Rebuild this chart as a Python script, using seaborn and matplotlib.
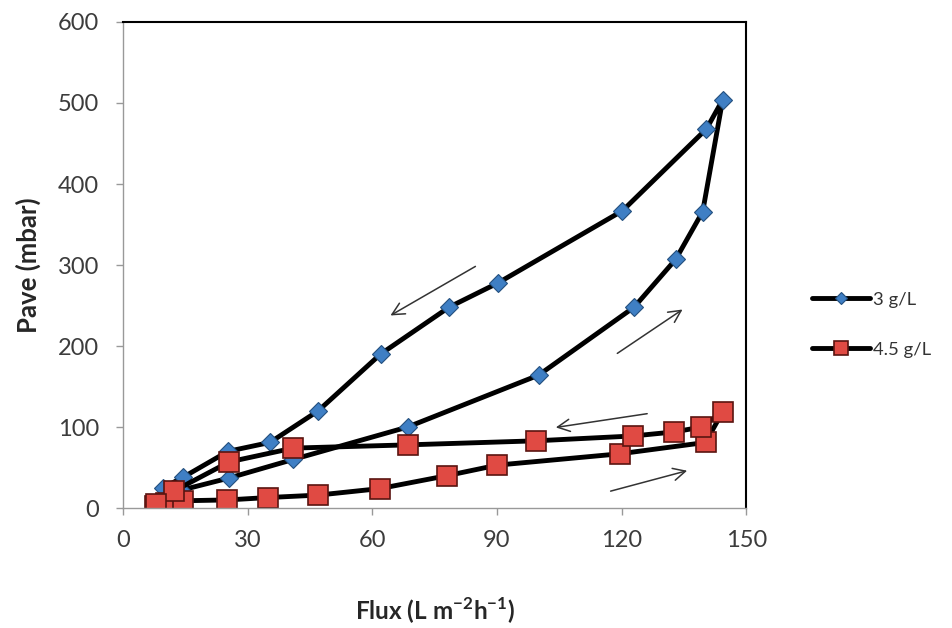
import matplotlib
matplotlib.use('Agg')
import matplotlib.pyplot as plt
import seaborn as sb
import pandas as pd

# 3 g/L: forward (increasing flux) then backward
flux_3 = [8, 10, 14, 25.5, 41, 68.5, 100, 123, 133, 139.5, 144.3,
          140.4, 120.2, 90.3, 78.5, 62, 47, 35.4, 25.3, 14.5, 9.7]
pave_3 = [5, 12, 22, 37, 60, 100, 164, 248, 307, 366, 504,
          468, 367, 278, 248, 190, 120, 81, 70, 38, 25]

# 4.5 g/L: forward then backward
flux_45 = [7.7, 10.3, 14.4, 25.1, 35, 47, 61.8, 78, 90.1, 119.6, 140.2, 144.3,
           139.2, 132.7, 122.8, 99.4, 68.6, 41, 25.6, 12.3, 8]
pave_45 = [3, 6, 9, 10, 13, 16, 24, 40, 53, 67, 81, 119,
           100, 94, 89, 83, 78, 74, 57, 21, 5]

# direction arrows (tail, head) in data units
arrows = [((85.4, 300), (63.8, 236)),
          ((118.4, 189), (135.2, 247)),
          ((126.8, 117), (103.5, 99)),
          ((116.7, 20), (136.4, 47))]

x_ticks = [0, 30, 60, 90, 120, 150]
y_ticks = [0, 100, 200, 300, 400, 500, 600]

sb.set_style('white')
plt.rcParams['font.family'] = ['Lato', 'DejaVu Sans']
plt.rcParams['mathtext.fontset'] = 'custom'
plt.rcParams['mathtext.rm'] = 'Lato'
plt.rcParams['mathtext.bf'] = 'Lato:bold'

fig = plt.figure(figsize=(9.52, 6.28), dpi=100)
ax = fig.add_axes([0.129, 0.191, 0.655, 0.774])

df3 = pd.DataFrame({'flux': flux_3, 'pave': pave_3})
df45 = pd.DataFrame({'flux': flux_45, 'pave': pave_45})

sb.lineplot(data=df3, x='flux', y='pave', sort=False, ax=ax, color='black', lw=3.5,
            marker='D', markersize=9, markerfacecolor='#3f7fc4', markeredgecolor='#24507f',
            markeredgewidth=0.8, label='3 g/L')
sb.lineplot(data=df45, x='flux', y='pave', sort=False, ax=ax, color='black', lw=3.5,
            marker='s', markersize=14, markerfacecolor='#e04a43', markeredgecolor='#5a1410',
            markeredgewidth=1.2, label='4.5 g/L')

for tail, head in arrows:
    ax.annotate('', xy=head, xytext=tail,
                arrowprops=dict(arrowstyle='->', color='#333333', lw=1.1,
                                mutation_scale=22))

ax.set_xlim(0, 150)
ax.set_ylim(0, 600)
ax.set_xticks(x_ticks)
ax.set_yticks(y_ticks)
ax.tick_params(axis='both', labelsize=17, labelcolor='#3c3c3c', color='#999999',
               length=5, width=1, direction='out', bottom=True, left=True)
ax.tick_params(axis='x', pad=11)
ax.tick_params(axis='y', pad=12)
for side in ['left', 'bottom']:
    ax.spines[side].set_color('#999999')
    ax.spines[side].set_linewidth(1)
for side in ['top', 'right']:
    ax.spines[side].set_color('black')
    ax.spines[side].set_linewidth(1.5)

ax.set_xlabel(r'Flux (L m$^{\mathbf{-2}}$h$^{\mathbf{-1}}$)', fontsize=17.5,
              fontweight='bold', labelpad=32)
ax.set_ylabel('Pave (mbar)', fontsize=18.5, fontweight='bold', labelpad=12)

ax.legend_.remove()
h, l = ax.get_legend_handles_labels()
leg = fig.legend(h, l, loc='center left', bbox_to_anchor=(0.836, 0.483), frameon=False,
                 fontsize=13.3, labelspacing=1.85, handlelength=3.1, handletextpad=0.15,
                 labelcolor='#333333')
for lh, ms in zip(leg.legend_handles, [6.5, 10.5]):
    lh.set_markersize(ms)

fig.savefig('out.png', dpi=100)
